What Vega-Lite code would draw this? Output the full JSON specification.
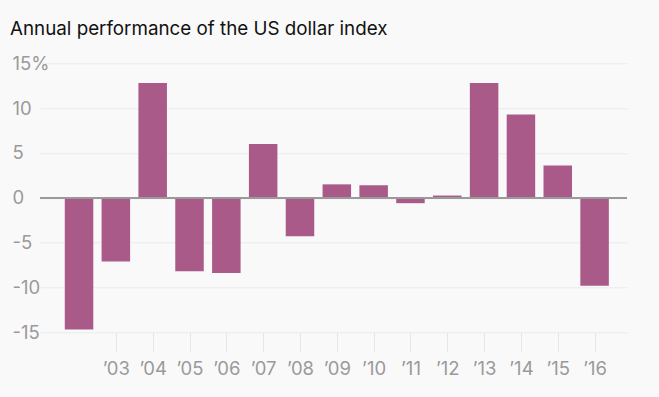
{
  "$schema": "https://vega.github.io/schema/vega-lite/v6.json",
  "autosize": {"type": "none"},
  "width": 587,
  "height": 269,
  "padding": {"left": 40, "top": 63.3, "right": 32, "bottom": 64.7},
  "background": "#f9f9f9",
  "title": {
    "text": "Annual performance of the US dollar index",
    "anchor": "start",
    "frame": "group",
    "dx": -30,
    "offset": 28.5,
    "dy": 28,
    "baseline": "alphabetic",
    "font": "Inter",
    "fontSize": 18.8,
    "fontWeight": "normal",
    "color": "#111111"
  },
  "config": {
    "view": {"stroke": null},
    "axis": {"labelFont": "Inter", "labelFontSize": 18.5, "labelColor": "#9a9a9a"}
  },
  "data": {
    "values": [
      {"year": 2002, "change": -14.7},
      {"year": 2003, "change": -7.1},
      {"year": 2004, "change": 12.8},
      {"year": 2005, "change": -8.2},
      {"year": 2006, "change": -8.4},
      {"year": 2007, "change": 6.0},
      {"year": 2008, "change": -4.3},
      {"year": 2009, "change": 1.5},
      {"year": 2010, "change": 1.4},
      {"year": 2011, "change": -0.6},
      {"year": 2012, "change": 0.25},
      {"year": 2013, "change": 12.8},
      {"year": 2014, "change": 9.3},
      {"year": 2015, "change": 3.6},
      {"year": 2016, "change": -9.8}
    ]
  },
  "layer": [
    {
      "mark": {"type": "bar", "width": 28.5, "color": "#a95a88"},
      "encoding": {
        "x": {
          "field": "year",
          "type": "quantitative",
          "scale": {"domain": [2000.94, 2016.88], "nice": false, "zero": false, "padding": 0},
          "axis": {
            "title": null,
            "values": [2003, 2004, 2005, 2006, 2007, 2008, 2009, 2010, 2011, 2012, 2013, 2014, 2015, 2016],
            "labelExpr": "'’' + substring(toString(datum.value), 2, 4)",
            "domain": false,
            "grid": false,
            "ticks": true,
            "tickSize": 19,
            "tickColor": "#e6e6e6",
            "labelPadding": 8,
            "labelFlush": false,
            "labelOverlap": false
          }
        },
        "y": {
          "field": "change",
          "type": "quantitative",
          "scale": {"domain": [-15, 15], "nice": false},
          "axis": {
            "title": null,
            "values": [-15, -10, -5, 0, 5, 10, 15],
            "labelExpr": "datum.value == 15 ? '15%' : toString(datum.value)",
            "labelAlign": "left",
            "labelPadding": 28,
            "domain": false,
            "ticks": false,
            "grid": true,
            "gridColor": "#ebebeb",
            "labelOverlap": false
          }
        }
      }
    },
    {
      "mark": {"type": "rule", "color": "#9a9a9a", "strokeWidth": 1},
      "encoding": {"y": {"datum": 0}}
    }
  ]
}
